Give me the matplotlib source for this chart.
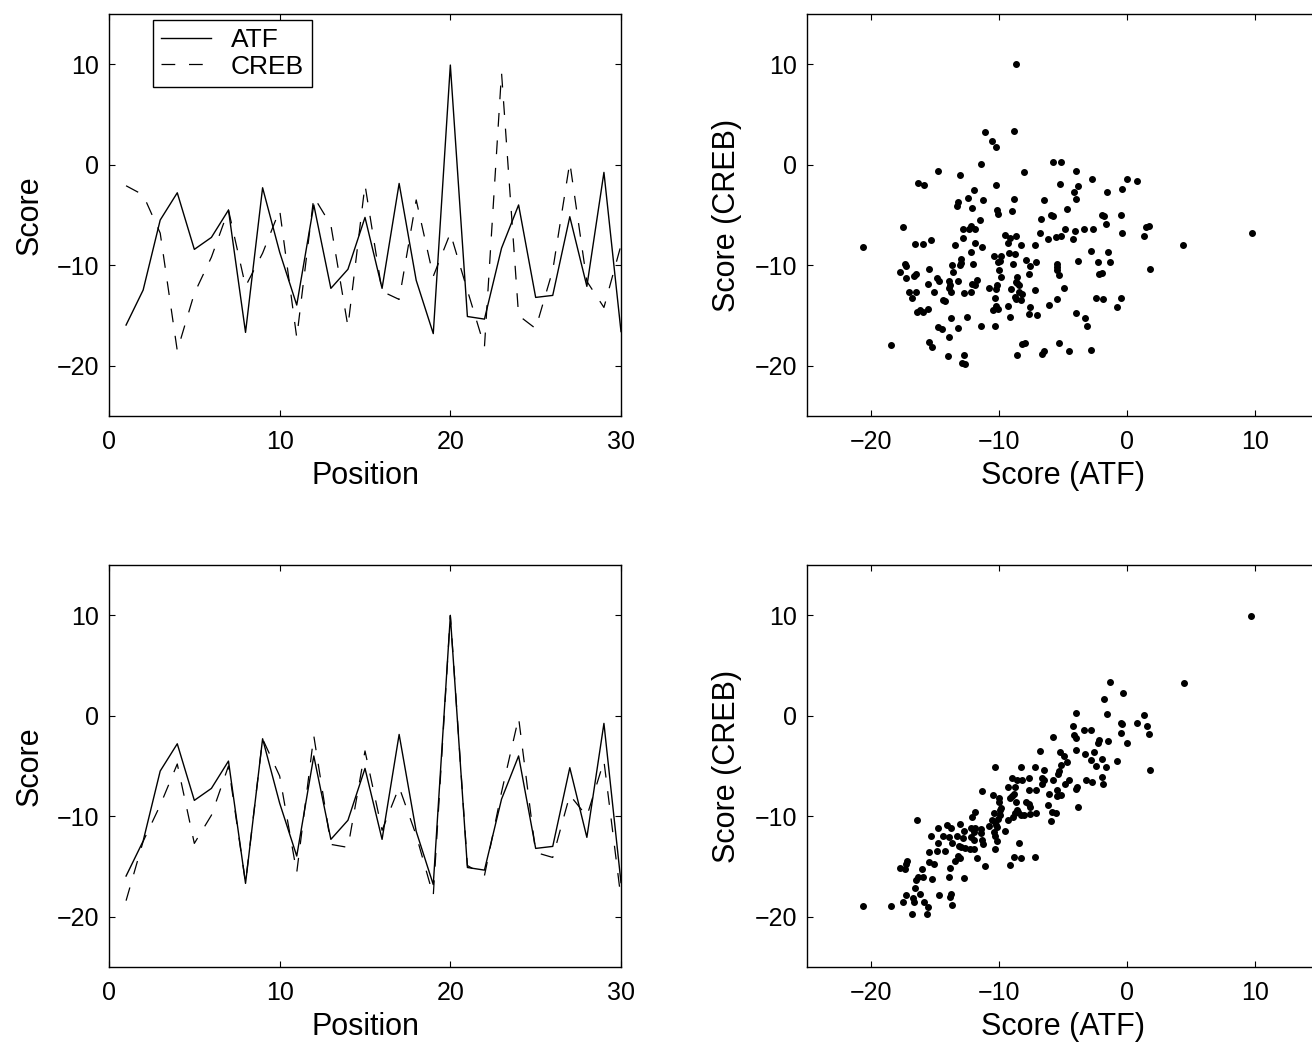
import matplotlib
matplotlib.use("Agg")
import matplotlib.pyplot as plt

plt.rcParams['font.family'] = ['Liberation Sans', 'DejaVu Sans']

# position 1..30
position = list(range(1, 31))

# top panel: ATF and CREB scores per position
atf_top = [-15.95, -12.47, -5.5, -2.79, -8.42, -7.23, -4.51, -16.68, -2.29, -8.7,
           -13.96, -4.0, -12.3, -10.4, -5.24, -12.3, -1.86, -11.5, -16.8, 9.92,
           -15.1, -15.36, -8.3, -4.0, -13.2, -13.0, -5.17, -12.1, -0.76, -16.6]
creb_top = [-2.09, -3.0, -6.8, -18.5, -12.8, -9.2, -4.5, -12.1, -8.8, -4.5,
            -17.2, -3.2, -6.0, -16.1, -2.0, -12.6, -13.4, -3.5, -11.1, -6.8,
            -12.5, -18.1, 9.15, -15.0, -16.3, -10.5, 0.23, -11.6, -14.2, -8.0]

# bottom panel
atf_bot = atf_top
creb_bot = [-18.4, -12.5, -8.9, -4.8, -12.7, -9.9, -5.0, -16.6, -2.3, -6.0,
            -15.6, -2.0, -12.8, -13.1, -3.5, -11.4, -7.1, -11.9, -17.9, 10.0,
            -14.9, -15.9, -7.6, -0.2, -13.6, -14.1, -7.9, -10.0, -4.5, -18.2]

# top scatter: Score (ATF) vs Score (CREB)
sc1_atf = [-11.09, -10.52, -10.23, -11.40, -14.75, -13.05, -16.30, -15.87, -10.26, -11.96,
           -12.43, -11.26, -13.18, -13.28, -12.12, -10.18, -10.10, -11.45, -17.50, -12.84,
           -12.38, -12.20, -11.84, -12.81, -15.35, -16.59, -15.97, -13.41, -11.86, -20.62,
           -11.29, -12.20,
           -8.84, -5.76, -5.14, -8.06, -3.98, -2.74, -5.22, -3.85, 0.03, 0.78,
           -0.36, -1.60, -4.16, -8.81, -6.49, -3.98, -9.02, -4.65, -5.92, -5.79,
           -6.69, -1.99, -1.78, -0.49, -1.63, 1.52, 1.71, -4.88, -4.03, -3.33,
           -2.64, -6.77, -0.41, 1.29, -9.53, -9.15, -8.66, -9.28, -8.32, -6.18,
           -5.56, -5.14, -7.21, -4.21,
           -10.36, -13.0, -17.36, -17.23, -13.64, -13.05, -12.95, -12.02, -15.45, -17.73,
           -16.64, -16.51, -17.29, -13.62, -14.86, -14.68, -13.88, -13.20, -15.58, -13.85,
           -13.88, -12.12, -11.88, -11.71, -10.75, -17.05, -16.51, -15.04, -13.72, -12.77,
           -12.20, -16.82, -14.34, -14.24, -10.34, -16.38, -16.18, -15.95, -15.56, -10.49,
           -13.78, -12.5, -14.75, -14.42, -13.18, -11.40, -10.34, -13.88, -18.43, -15.48,
           -15.22, -14.01, -12.77, -12.89, -12.64,
           -2.79, -1.47, -9.25, -8.74, -9.84, -10.10, -9.95, -8.91, -7.91, -7.13,
           -7.57, -5.50, -5.50, -5.45, -3.85, -2.30, -1.34, -10.0, -9.84, -7.62,
           -8.58, -8.68, -8.58, -8.45, -5.30, -2.17, -1.99, 1.76, -10.13, -10.23,
           -9.04, -8.40, -8.22, -7.21, -4.94, -8.78, -8.68, -8.27, -5.50, -2.43,
           -1.86, -0.49, -10.23, -10.10, -9.28, -7.57, -6.07, -0.78, -9.12, -7.62,
           -7.05, -4.0, -3.31, -3.16, -8.19, -7.93, -5.35, -8.60, -6.61, -6.49,
           -4.52, -2.81,
           4.34, 9.8, -8.68]
sc1_creb = [3.25, 2.32, 1.72, 0.07, -0.66, -1.06, -1.82, -1.99, -2.05, -2.55,
            -3.34, -3.54, -3.74, -4.07, -4.30, -4.47, -4.90, -5.46, -6.19, -6.36,
            -6.39, -6.13, -6.36, -7.28, -7.45, -7.88, -7.88, -8.01, -7.81, -8.21,
            -8.21, -8.64,
            3.38, 0.26, 0.30, -0.76, -0.66, -1.39, -1.95, -2.12, -1.39, -1.66,
            -2.42, -2.72, -2.72, -3.41, -3.54, -3.41, -4.57, -4.40, -5.03, -5.13,
            -5.36, -5.00, -5.06, -5.03, -5.86, -6.16, -6.06, -6.36, -6.55, -6.36,
            -6.39, -6.82, -6.79, -7.08, -6.99, -7.31, -7.11, -7.78, -7.98, -7.41,
            -7.21, -7.11, -7.94, -7.38,
            -9.04, -9.33, -9.86, -10.09, -10.0, -10.0, -9.76, -9.90, -10.33, -10.69,
            -11.02, -10.86, -11.22, -10.69, -11.29, -11.52, -11.52, -11.55, -11.89, -11.99,
            -12.28, -11.89, -11.92, -11.42, -12.31, -12.64, -12.64, -12.68, -12.71, -12.78,
            -12.68, -13.27, -13.41, -13.6, -13.27, -14.63, -14.47, -14.66, -14.40, -14.5,
            -15.26, -15.19, -16.12, -16.39, -16.25, -16.05, -16.02, -17.12, -17.94, -17.61,
            -18.11, -19.0, -18.90, -19.69, -19.79,
            -8.61, -8.71, -8.81, -8.91, -9.10, -9.70, -9.59, -9.83, -9.46, -9.66,
            -10.09, -9.83, -10.16, -10.43, -9.53, -9.66, -9.63, -10.49, -11.15, -10.86,
            -11.15, -11.62, -11.75, -11.99, -10.97, -10.87, -10.77, -10.36, -11.99, -12.41,
            -12.41, -12.68, -12.88, -12.51, -12.31, -13.18, -13.34, -13.44, -13.31, -13.27,
            -13.31, -13.27, -14.07, -14.40, -14.07, -14.13, -14.0, -14.17, -15.16, -14.86,
            -14.96, -14.76, -15.23, -16.05, -17.84, -17.7, -17.78, -18.94, -18.80, -18.54,
            -18.57, -18.47,
            -7.94, -6.75, 10.03]

# bottom scatter
sc2_atf = [-16.38, -14.75, -14.03, -13.78, -15.35, -14.39, -13.90, -14.78, -13.64, -15.43,
           -14.83, -14.24, -17.16, -17.29, -17.75, -17.36, -15.48, -15.04, -15.99, -13.85,
           -16.30, -16.49, -15.95, -15.22, -13.88, -16.54, -17.26, -16.69, -16.20, -14.71,
           -13.85, -13.72, -17.50, -16.67, -15.87, -15.56, -20.65, -18.43, -13.64, -16.8,
           -15.6,
           -6.80, -10.29, -8.32, -7.21, -6.49, -8.99, -8.60, -8.22, -7.65, -6.67,
           -6.49, -6.61, -9.28, -8.74, -7.62, -7.08, -11.29, -10.44, -10.0, -10.0,
           -9.15, -9.02, -8.81, -8.68, -7.91, -7.67, -7.57, -9.87, -9.92, -8.63,
           -8.76, -8.50, -8.29, -8.04, -7.60, -7.13, -8.94, -9.30, -11.84, -12.12,
           -10.36, -9.92, -10.05, -10.54, -10.34, -10.75, -10.23, -10.18, -9.53, -10.41,
           -10.31, -10.18, -10.29, -13.05, -12.71, -12.20, -11.91, -11.42, -11.94, -11.40,
           -13.28, -12.81, -12.20, -11.94, -11.34, -11.26, -13.15, -12.95, -12.64, -12.25,
           -11.99, -13.23, -13.02, -13.41, -11.68, -11.09, -8.42, -8.81, -8.27, -7.21,
           -9.15, -12.77,
           -1.34, -0.34, -1.81, -4.0, -1.60, 1.29, -0.47, -0.40, 0.78, 1.55,
           -4.19, -3.33, -2.79, -0.49, 1.73, -5.79, -4.16, -3.98, -2.22, -2.30,
           -1.47, 0.03, -5.22, -3.95, -3.31, -2.61, -4.94, -4.68, -2.82, -1.96,
           -0.80, -2.43, -1.65, -5.14, -5.30, -5.37, 1.76, -5.79, -4.55, -4.88,
           -3.18, -2.74, -1.96, -1.86, -4.0, -3.88, -5.50, -6.10, -5.48, -5.19,
           -6.18, -5.87, -5.58, -5.97, -3.85,
           4.42, 9.69]
sc2_creb = [-10.35, -11.17, -10.90, -11.2, -11.94, -11.94, -12.04, -12.66, -12.69, -13.59,
            -13.46, -13.49, -14.48, -14.75, -15.18, -15.27, -14.58, -14.78, -15.24, -15.18,
            -16.07, -16.34, -16.07, -16.27, -16.01, -17.10, -17.86, -18.12, -17.73, -17.8,
            -17.99, -17.73, -18.55, -18.55, -18.49, -19.05, -18.89, -18.92, -18.82, -19.7,
            -19.7,
            -3.46, -5.08, -5.08, -5.08, -5.35, -6.18, -6.44, -6.41, -6.24, -6.24,
            -6.44, -6.84, -7.13, -7.07, -7.40, -7.43, -7.47, -7.86, -8.22, -8.62,
            -8.19, -7.96, -7.80, -8.56, -8.56, -8.79, -9.12, -9.19, -9.38, -9.42,
            -9.68, -9.55, -9.88, -9.88, -9.78, -9.65, -10.05, -10.35, -9.62, -10.11,
            -9.68, -9.88, -10.28, -10.38, -10.54, -10.94, -10.87, -11.10, -11.47, -11.60,
            -11.94, -12.43, -13.29, -10.77, -11.44, -11.2, -11.2, -11.27, -11.6, -11.70,
            -11.94, -12.2, -12.1, -12.36, -12.36, -12.76, -12.93, -13.09, -13.19, -13.26,
            -13.26, -13.98, -14.18, -14.42, -14.15, -14.98, -12.66, -14.05, -14.12, -14.09,
            -14.88, -16.11,
            3.40, 2.30, 1.71, 0.25, 0.22, 0.08, -0.68, -0.80, -0.68, -1.04,
            -1.01, -1.41, -1.41, -1.67, -1.84, -2.07, -1.94, -2.17, -2.40, -2.76,
            -2.56, -2.73, -3.56, -3.43, -3.76, -3.56, -4.05, -4.58, -4.42, -4.35,
            -4.52, -4.98, -5.05, -4.88, -5.48, -5.84, -5.38, -6.41, -6.41, -6.80,
            -6.37, -6.57, -6.14, -6.77, -7.30, -7.13, -7.37, -7.80, -7.96, -7.86,
            -8.89, -9.55, -9.71, -10.45, -9.09,
            3.23, 9.88]

W, H = 1312, 1043
fig = plt.figure(figsize=(W / 100, H / 100), dpi=100)

DASH = (0, (11, 11))


def box(left, top, width=512, height=402):
    return [left / W, (H - top - height) / H, width / W, height / H]


def style(ax, xlim, xticks):
    ax.set_xlim(*xlim)
    ax.set_ylim(-25, 15)
    ax.set_xticks(xticks)
    ax.set_yticks([-20, -10, 0, 10])
    ax.tick_params(direction='in', length=4, width=0.8, top=True, right=True,
                   labelsize=18)
    ax.tick_params(axis='x', pad=10)
    ax.tick_params(axis='y', pad=7)
    for s in ax.spines.values():
        s.set_linewidth(1.0)


def labels(ax, xl, yl):
    ax.set_xlabel(xl, fontsize=22, labelpad=5)
    ax.set_ylabel(yl, fontsize=22, labelpad=9)


ax1 = fig.add_axes(box(109, 14))
ax1.plot(position, atf_top, color='k', lw=1.0, label='ATF')
ax1.plot(position, creb_top, color='k', lw=0.9, ls=DASH, label='CREB')
style(ax1, (0, 30), [0, 10, 20, 30])
labels(ax1, 'Position', 'Score')
leg = ax1.legend(loc='upper left', bbox_to_anchor=(0.086, 0.985), borderaxespad=0,
                 fontsize=19, frameon=True, fancybox=False, handlelength=1.9,
                 borderpad=0.3, labelspacing=0.1, handletextpad=0.75)
leg.get_frame().set_edgecolor('k')
leg.get_frame().set_linewidth(1.0)
leg.get_frame().set_alpha(1)

ax2 = fig.add_axes(box(807, 14))
ax2.plot(sc1_atf, sc1_creb, 'o', color='k', ms=4.0)
style(ax2, (-25, 15), [-20, -10, 0, 10])
labels(ax2, 'Score (ATF)', 'Score (CREB)')

ax3 = fig.add_axes(box(109, 565))
ax3.plot(position, atf_bot, color='k', lw=1.0)
ax3.plot(position, creb_bot, color='k', lw=0.9, ls=DASH)
style(ax3, (0, 30), [0, 10, 20, 30])
labels(ax3, 'Position', 'Score')

ax4 = fig.add_axes(box(807, 565))
ax4.plot(sc2_atf, sc2_creb, 'o', color='k', ms=4.0)
style(ax4, (-25, 15), [-20, -10, 0, 10])
labels(ax4, 'Score (ATF)', 'Score (CREB)')

fig.savefig('out.png', dpi=100)
